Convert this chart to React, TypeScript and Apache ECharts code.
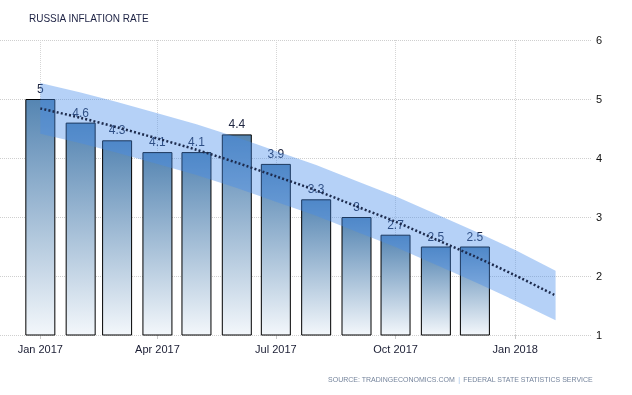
import React, { useEffect, useRef } from "react";
import * as echarts from "echarts";

// ---- data ----
const months = ["2017-01", "2017-02", "2017-03", "2017-04", "2017-05", "2017-06", "2017-07", "2017-08", "2017-09", "2017-10", "2017-11", "2017-12"];
const inflation = [5, 4.6, 4.3, 4.1, 4.1, 4.4, 3.9, 3.3, 3, 2.7, 2.5, 2.5];
const trendMonths = [...months, "2018-01", "2018-02"];
const trend = [4.84, 4.68, 4.52, 4.33, 4.14, 3.92, 3.69, 3.45, 3.18, 2.92, 2.62, 2.33, 2.01, 1.67];
const bandLower = [4.41, 4.25, 4.09, 3.9, 3.71, 3.49, 3.26, 3.02, 2.75, 2.49, 2.19, 1.9, 1.58, 1.25];
const bandUpper = [5.27, 5.11, 4.95, 4.76, 4.57, 4.35, 4.12, 3.88, 3.61, 3.35, 3.05, 2.76, 2.44, 2.09];
const tickMonths = ["2017-01", "2017-04", "2017-07", "2017-10", "2018-01"];
const tickLabels = ["Jan 2017", "Apr 2017", "Jul 2017", "Oct 2017", "Jan 2018"];
const axisStartMonth = "2016-12";
const axisEndMonth = "2018-03";
const yMin = 1;
const yMax = 6;
const titleText = "RUSSIA INFLATION RATE";
const sourceLeft = "SOURCE: TRADINGECONOMICS.COM";
const sourceRight = "FEDERAL STATE STATISTICS SERVICE";

const ts = (m: string) => {
  const [y, mo] = m.split("-").map(Number);
  return Date.UTC(y, mo - 1, 1);
};

export default function App() {
  const ref = useRef<HTMLDivElement>(null);
  useEffect(() => {
    if (!ref.current) return;
    const chart = echarts.init(ref.current, undefined, { renderer: "svg" });
    const tickTs = tickMonths.map(ts);
    const font = "'Liberation Sans', Arial, sans-serif";
    const bandData = trendMonths.map((m, i) => [ts(m), bandLower[i], bandUpper[i]]);
    chart.setOption({
      animation: false,
      textStyle: { fontFamily: font },
      title: {
        text: titleText,
        left: 24,
        top: 8,
        textStyle: { fontSize: 10, fontWeight: "normal", color: "#1c2143", fontFamily: font },
      },
      graphic: [
        {
          type: "text",
          right: 39,
          top: 373,
          style: {
            text: "{a|" + sourceLeft + "} {b||} {a|" + sourceRight + "}",
            rich: {
              a: { fontSize: 7, fill: "#75849c", fontFamily: font },
              b: { fontSize: 7, fill: "#9fc0e8", fontFamily: font },
            },
          },
        },
      ],
      grid: { left: 0, right: 40, top: 40, bottom: 60, containLabel: false },
      xAxis: {
        type: "value",
        min: ts(axisStartMonth),
        max: ts(axisEndMonth),
        axisLine: { show: false },
        axisTick: {
          show: true,
          customValues: tickTs,
          length: 4,
          lineStyle: { color: "#c8c8c8" },
        },
        axisLabel: {
          customValues: tickTs,
          formatter: (v: number) => {
            const i = tickTs.indexOf(v);
            return i >= 0 ? tickLabels[i] : "";
          },
          fontSize: 11,
          color: "#1a1d33",
          margin: 8,
        },
        splitLine: { show: true, lineStyle: { color: "#d6d6d6", type: "dotted", width: 1 } },
      },
      yAxis: {
        type: "value",
        position: "right",
        min: yMin,
        max: yMax,
        interval: 1,
        axisLine: { show: false },
        axisTick: { show: false },
        axisLabel: { fontSize: 11, color: "#111", margin: 4 },
        splitLine: { show: true, lineStyle: { color: "#cfcfcf", type: "dotted", width: 1 } },
      },
      series: [
        {
          type: "bar",
          barWidth: 30,
          data: months.map((m, i) => [ts(m), inflation[i]]),
          itemStyle: {
            borderColor: "#000",
            borderWidth: 1,
            color: new echarts.graphic.LinearGradient(0, 0, 0, 1, [
              { offset: 0, color: "#5585b2" },
              { offset: 1, color: "#f3f7fb" },
            ]),
          },
          label: {
            show: true,
            position: "top",
            distance: 4,
            fontSize: 12,
            color: "#1e2540",
            formatter: (p: any) => String(p.value[1]),
          },
          z: 2,
        },
        {
          type: "custom",
          silent: true,
          z: 3,
          data: bandData,
          encode: { x: 0, y: [1, 2] },
          renderItem: (params: any, api: any) => {
            if (params.dataIndex !== 0) return null;
            const upper = bandData.map((d) => api.coord([d[0], d[2]]));
            const lower = bandData.map((d) => api.coord([d[0], d[1]])).reverse();
            return {
              type: "polygon",
              shape: { points: [...upper, ...lower], smooth: 0 },
              style: { fill: "rgba(70,140,235,0.4)", stroke: "none" },
            };
          },
        },
        {
          type: "line",
          symbol: "none",
          smooth: 0.3,
          lineStyle: { color: "#1d2b4d", width: 2.5, type: [2, 2.2] },
          data: trendMonths.map((m, i) => [ts(m), trend[i]]),
          z: 4,
          silent: true,
        },
      ],
    });
    return () => chart.dispose();
  }, []);
  return <div ref={ref} style={{ position: "fixed", left: 0, top: 0, width: 632, height: 395 }} />;
}
